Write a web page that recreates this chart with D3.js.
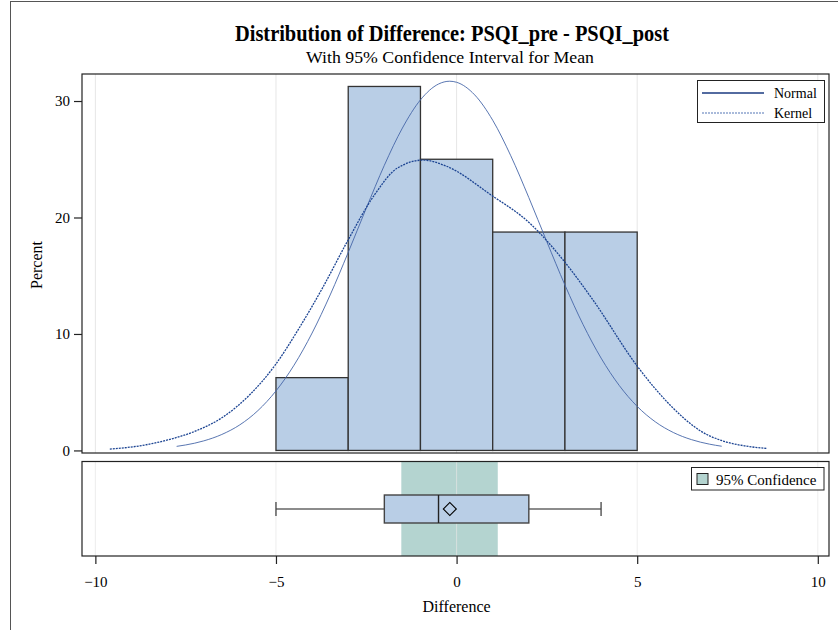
<!DOCTYPE html>
<html>
<head>
<meta charset="utf-8">
<script src="https://cdn.jsdelivr.net/npm/d3@7"></script>
<style>
  body { margin: 0; background: #fff; }
  svg text { font-family: "Liberation Serif", "Times New Roman", serif; fill: #000; }
</style>
</head>
<body>
<div id="chart"></div>
<script>
/////////////////////////////////////////////////////
///////////////////// Data //////////////////////////
/////////////////////////////////////////////////////

// Histogram bins (width 2) and their percents
const binStarts   = [-5, -3, -1, 1, 3];
const binWidth    = 2;
const binPercents = [6.25, 31.25, 25, 18.75, 18.75];

// Normal curve
const normalX = [-7.75, -7.5, -7, -6.5, -6, -5.5, -5, -4.5, -4, -3.5, -3, -2.5, -2, -1.5, -1, -0.5, -0.19, 0, 0.5, 1, 1.5, 2, 2.5, 3, 3.5, 4, 4.5, 5, 5.5, 6, 6.5, 7, 7.34];
const normalY = [0.35, 0.47, 0.82, 1.37, 2.2, 3.42, 5.11, 7.32, 10.08, 13.35, 17.0, 20.8, 24.48, 27.68, 30.1, 31.46, 31.7, 31.61, 30.53, 28.35, 25.3, 21.71, 17.91, 14.2, 10.82, 7.93, 5.59, 3.78, 2.46, 1.54, 0.93, 0.54, 0.36];

// Kernel curve
const kernelX = [-9.6, -8.8, -8.0, -7.2, -6.5, -5.72, -5.03, -4.34, -3.69, -3.05, -2.26, -1.66, -0.92, -0.28, 0.97, 2.03, 2.95, 3.78, 5.01, 5.91, 6.74, 7.47, 8.0, 8.58];
const kernelY = [0.12, 0.38, 0.9, 1.7, 2.8, 4.8, 7.3, 10.6, 14.07, 17.8, 22.0, 24.2, 24.93, 24.4, 21.9, 19.5, 16.35, 12.9, 7.2, 3.9, 1.7, 0.72, 0.38, 0.17];

// Box plot: min, Q1, median, Q3, max, plus the mean and its 95% CI
const boxValues = [-5, -2, -0.5, 2, 4];
const meanDiff  = -0.1875;
const ciMean    = [-1.53, 1.14];

// Ticks
const xTicks = [-10, -5, 0, 5, 10];
const yTicks = [0, 10, 20, 30];

/////////////////////////////////////////////////////
///////////////////// Constants /////////////////////
/////////////////////////////////////////////////////

const width  = 838;
const height = 630;

const plotLeft  = 82;
const plotRight = 829;
const topPanel    = { top: 74, bottom: 453 };
const bottomPanel = { top: 461.5, bottom: 556 };

const bar_color    = '#b9cee6';
const bar_stroke   = '#333333';
const normal_color = '#4666a8';
const kernel_color = '#1d4593';
const ci_color     = '#b4d4d0';
const grid_color   = '#e6e6e6';

const svg = d3.select("#chart")
  .append("svg")
  .attr("width", width)
  .attr("height", height);

// outer frame (only left/top visible in the picture)
svg.append("rect")
  .attr("x", 10.5).attr("y", 1.5)
  .attr("width", 900).attr("height", 800)
  .attr("fill", "none")
  .attr("stroke", "#555");

const x = d3.scaleLinear().domain([-10.37, 10.31]).range([plotLeft, plotRight]);
const y = d3.scaleLinear().domain([-0.22, 32.32]).range([topPanel.bottom, topPanel.top]);

/////////////////////////////////////////////////////
///////////////////// Titles ////////////////////////
/////////////////////////////////////////////////////

// SAS titles are narrow, so squeeze them to the measured width
svg.append("text")
  .attr("x", 452).attr("y", 41)
  .attr("text-anchor", "middle")
  .attr("textLength", 434)
  .attr("lengthAdjust", "spacingAndGlyphs")
  .style("font-size", "23px")
  .style("font-weight", "bold")
  .text("Distribution of Difference: PSQI_pre - PSQI_post");

svg.append("text")
  .attr("x", 450).attr("y", 63)
  .attr("text-anchor", "middle")
  .attr("textLength", 288)
  .attr("lengthAdjust", "spacingAndGlyphs")
  .style("font-size", "17px")
  .text("With 95% Confidence Interval for Mean");

/////////////////////////////////////////////////////
///////////////////// Top panel /////////////////////
/////////////////////////////////////////////////////

const histG = svg.append("g");

// vertical grid
histG.selectAll("line.grid")
  .data(xTicks)
  .enter().append("line")
  .attr("x1", d => x(d)).attr("x2", d => x(d))
  .attr("y1", topPanel.top).attr("y2", topPanel.bottom)
  .attr("stroke", grid_color);

// bars
histG.selectAll("rect.bar")
  .data(binStarts)
  .enter().append("rect")
  .attr("x", d => x(d))
  .attr("width", d => x(d + binWidth) - x(d))
  .attr("y", (d, i) => y(binPercents[i]))
  .attr("height", (d, i) => y(0) - y(binPercents[i]))
  .attr("fill", bar_color)
  .attr("stroke", bar_stroke)
  .attr("stroke-width", 1.3);

const line = d3.line()
  .x(d => x(d[0]))
  .y(d => y(d[1]))
  .curve(d3.curveMonotoneX);

histG.append("path")
  .attr("d", line(d3.zip(normalX, normalY)))
  .attr("fill", "none")
  .attr("stroke", normal_color)
  .attr("stroke-width", 0.9);

histG.append("path")
  .attr("d", line(d3.zip(kernelX, kernelY)))
  .attr("fill", "none")
  .attr("stroke", kernel_color)
  .attr("stroke-width", 1.3)
  .attr("stroke-dasharray", "2,1");

// frame
histG.append("rect")
  .attr("x", plotLeft).attr("y", topPanel.top)
  .attr("width", plotRight - plotLeft)
  .attr("height", topPanel.bottom - topPanel.top)
  .attr("fill", "none")
  .attr("stroke", "#222")
  .attr("stroke-width", 1.2);

// y axis
const yAxis = svg.append("g")
  .attr("transform", `translate(${plotLeft},0)`)
  .call(d3.axisLeft(y).tickValues(yTicks).tickSize(8).tickPadding(4));
yAxis.select(".domain").remove();
yAxis.selectAll("line").attr("stroke", "#222").attr("stroke-width", 1.2);
yAxis.selectAll("text")
  .style("font-size", "15px")
  .style("font-family", "Liberation Serif, serif")
  .attr("fill", "#000");

svg.append("text")
  .attr("transform", "translate(42,265) rotate(-90)")
  .attr("text-anchor", "middle")
  .style("font-size", "16px")
  .text("Percent");

// legend for curves
const legend = svg.append("g");
legend.append("rect")
  .attr("x", 697.5).attr("y", 80.5)
  .attr("width", 127).attr("height", 42)
  .attr("fill", "#fff")
  .attr("stroke", "#222");
legend.append("line")
  .attr("x1", 702).attr("x2", 764).attr("y1", 93).attr("y2", 93)
  .attr("stroke", "#1a3a80").attr("stroke-width", 1.3);
legend.append("line")
  .attr("x1", 702).attr("x2", 764).attr("y1", 113).attr("y2", 113)
  .attr("stroke", "#5577b5").attr("stroke-width", 1.2)
  .attr("stroke-dasharray", "2,1");
legend.append("text").attr("x", 774).attr("y", 97.5).style("font-size", "14px").text("Normal");
legend.append("text").attr("x", 774).attr("y", 117.5).style("font-size", "14px").text("Kernel");

/////////////////////////////////////////////////////
///////////////////// Bottom panel //////////////////
/////////////////////////////////////////////////////

const boxG = svg.append("g");
const boxMid = 509;

boxG.append("rect")
  .attr("x", x(ciMean[0]))
  .attr("width", x(ciMean[1]) - x(ciMean[0]))
  .attr("y", bottomPanel.top)
  .attr("height", bottomPanel.bottom - bottomPanel.top)
  .attr("fill", ci_color);

boxG.selectAll("line.grid")
  .data(xTicks)
  .enter().append("line")
  .attr("x1", d => x(d)).attr("x2", d => x(d))
  .attr("y1", bottomPanel.top).attr("y2", bottomPanel.bottom)
  .attr("stroke", grid_color)
  .attr("stroke-opacity", 0.7);

// whiskers
const whisk = [[boxValues[0], boxValues[1]], [boxValues[3], boxValues[4]]];
boxG.selectAll("line.whisker")
  .data(whisk)
  .enter().append("line")
  .attr("x1", d => x(d[0])).attr("x2", d => x(d[1]))
  .attr("y1", boxMid).attr("y2", boxMid)
  .attr("stroke", "#666").attr("stroke-width", 1.5);
boxG.selectAll("line.cap")
  .data([boxValues[0], boxValues[4]])
  .enter().append("line")
  .attr("x1", d => x(d)).attr("x2", d => x(d))
  .attr("y1", boxMid - 7).attr("y2", boxMid + 7)
  .attr("stroke", "#444").attr("stroke-width", 1.3);

// box
boxG.append("rect")
  .attr("x", x(boxValues[1]))
  .attr("width", x(boxValues[3]) - x(boxValues[1]))
  .attr("y", boxMid - 14)
  .attr("height", 28)
  .attr("fill", bar_color)
  .attr("stroke", "#444")
  .attr("stroke-width", 1.4);
boxG.append("line")
  .attr("x1", x(boxValues[2])).attr("x2", x(boxValues[2]))
  .attr("y1", boxMid - 14).attr("y2", boxMid + 14)
  .attr("stroke", "#222").attr("stroke-width", 1.4);

// mean
boxG.append("path")
  .attr("d", d3.symbol(d3.symbolSquare, 84)())
  .attr("transform", `translate(${x(meanDiff)},${boxMid}) rotate(45)`)
  .attr("fill", "none")
  .attr("stroke", "#000")
  .attr("stroke-width", 1.1);

boxG.append("rect")
  .attr("x", plotLeft).attr("y", bottomPanel.top)
  .attr("width", plotRight - plotLeft)
  .attr("height", bottomPanel.bottom - bottomPanel.top)
  .attr("fill", "none")
  .attr("stroke", "#222")
  .attr("stroke-width", 1.2);

// CI legend
const ciLegend = svg.append("g");
ciLegend.append("rect")
  .attr("x", 691.5).attr("y", 467.5)
  .attr("width", 132.5).attr("height", 22.5)
  .attr("fill", "#fff").attr("stroke", "#222");
ciLegend.append("rect")
  .attr("x", 697).attr("y", 473.5)
  .attr("width", 11).attr("height", 11)
  .attr("fill", ci_color).attr("stroke", "#222");
ciLegend.append("text")
  .attr("x", 716).attr("y", 484.5)
  .style("font-size", "15px")
  .text("95% Confidence");

// x axis
const xAxis = svg.append("g")
  .attr("transform", `translate(0,${bottomPanel.bottom})`)
  .call(d3.axisBottom(x).tickValues(xTicks).tickSize(8).tickPadding(12));
xAxis.select(".domain").remove();
xAxis.selectAll("line").attr("stroke", "#222").attr("stroke-width", 1.2);
xAxis.selectAll("text")
  .style("font-size", "15px")
  .style("font-family", "Liberation Serif, serif")
  .attr("fill", "#000");

svg.append("text")
  .attr("x", x(0)).attr("y", 612)
  .attr("text-anchor", "middle")
  .style("font-size", "16px")
  .text("Difference");
</script>
</body>
</html>
